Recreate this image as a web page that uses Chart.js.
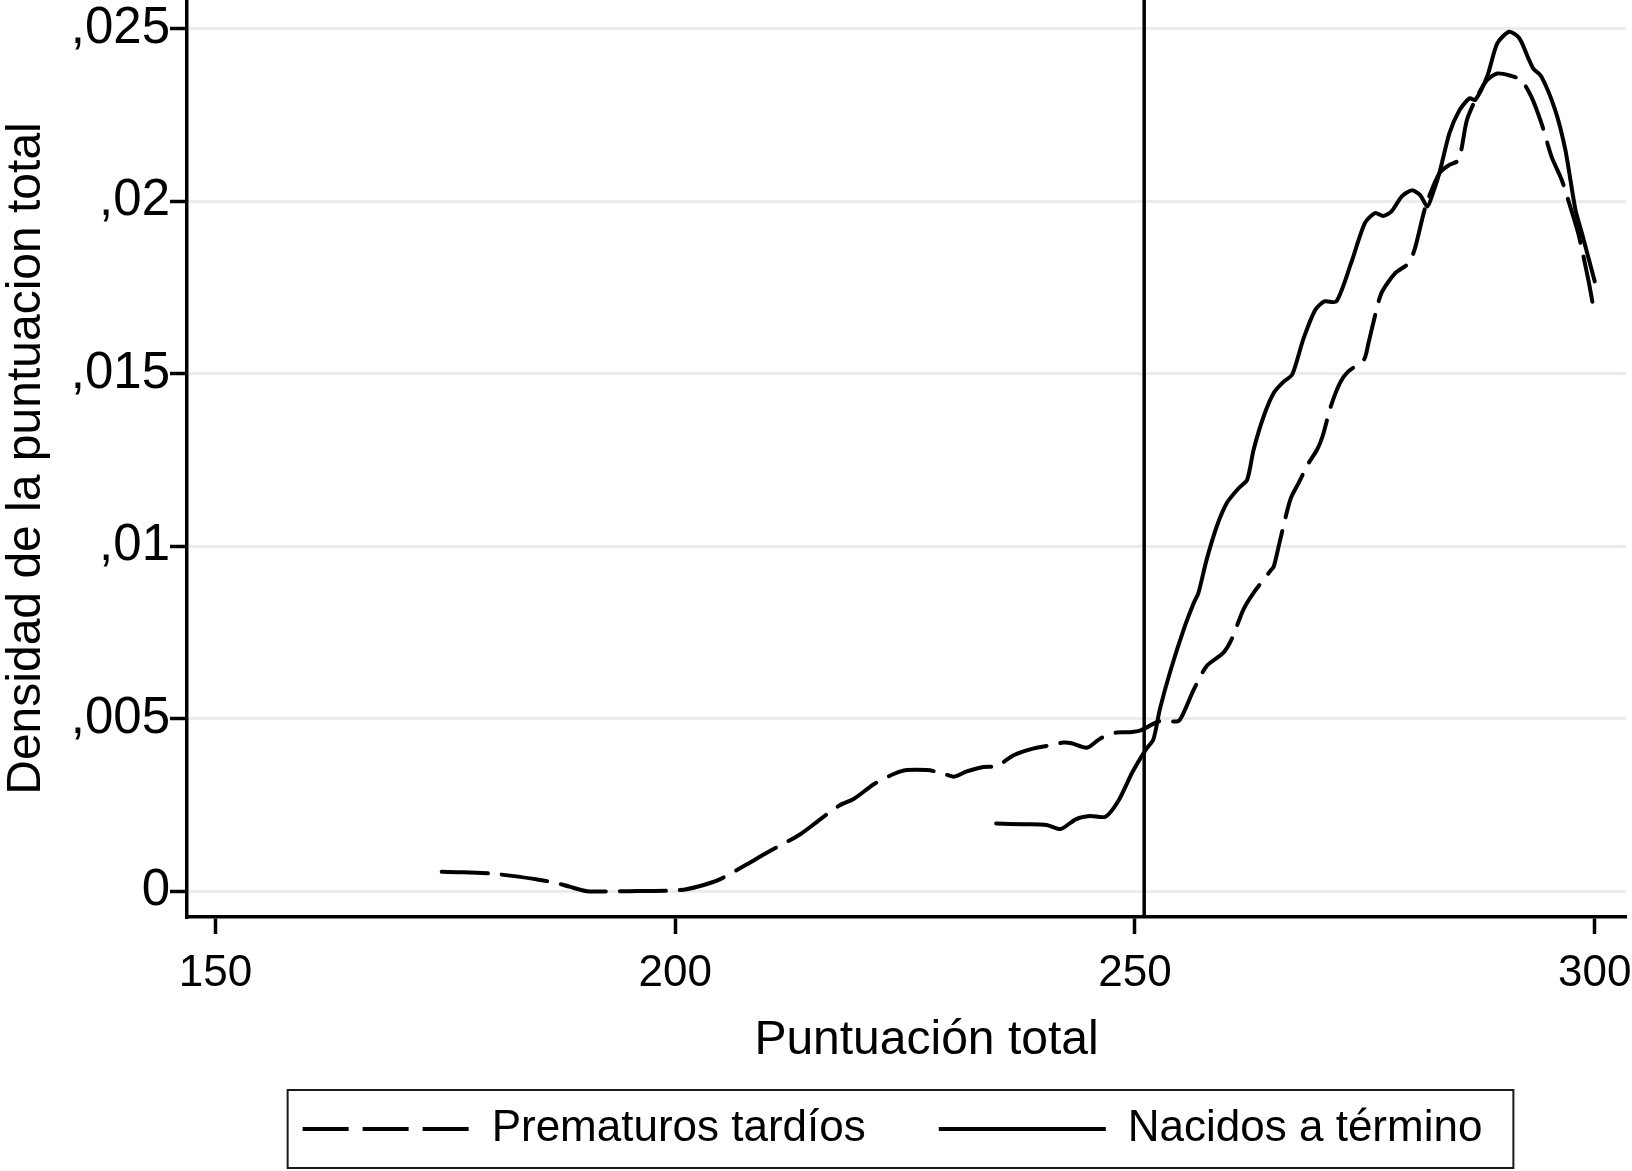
<!DOCTYPE html>
<html>
<head>
<meta charset="utf-8">
<script src="https://cdn.jsdelivr.net/npm/chart.js@4.4.1/dist/chart.umd.min.js"></script>
<style>
  html, body { margin: 0; padding: 0; background: #fff; }
  #wrap { width: 1632px; height: 1171px; }
</style>
</head>
<body>
<div id="wrap"><canvas id="myChart" width="1632" height="1171"></canvas></div>
<script>
// Axis ticks
const xTicks = [150, 200, 250, 300];
const yTicks = [0, 0.005, 0.01, 0.015, 0.02, 0.025];
const yTickLabels = ['0', ',005', ',01', ',015', ',02', ',025'];
const seriesNames = ['Prematuros tardíos', 'Nacidos a término'];

// Kernel density, late preterm (dashed)
const prematurosX = [174.6, 177, 180, 182, 185, 187, 188.5, 190.4, 195, 200.5, 202.7, 204.9, 207.8, 210, 213.6,
  215.8, 217.9, 219.4, 221.6, 223.7, 225.2, 227.4, 228.8, 230.3, 231.7, 233.5, 235, 236.8, 239, 240.8,
  242.2, 243.1, 244.8, 246.2, 248, 249.5, 250.6, 252.7, 254.7, 255.3, 256.4, 257.8, 259.6, 260.5, 261.8,
  262.9, 264.7, 265.1, 265.8, 266.9, 267.8, 268.9, 269.8, 270.4, 271.3, 272.3, 273.2, 274.9, 275.4, 276,
  276.8, 278.3, 279.8, 280.5, 281.6, 283.1, 284.2, 285.2, 286.1, 287.2, 288.3, 289.4, 290.9, 292, 293.1,
  294.2, 295.3, 296.4, 297.1, 298.2, 299.3, 300];
const prematurosY = [0.00056, 0.00055, 0.00051, 0.00045, 0.00034, 0.00024, 0.00013, 0, 0, 0.00003, 0.00015, 0.00035, 0.00078, 0.00112, 0.00165,
  0.00209, 0.00249, 0.00267, 0.0031, 0.00339, 0.00351, 0.00351, 0.00344, 0.00332, 0.00347, 0.0036, 0.00363, 0.00394, 0.00414, 0.00423,
  0.00431, 0.00429, 0.00416, 0.00442, 0.0046, 0.00461, 0.00466, 0.00493, 0.00493, 0.00518, 0.00585, 0.00653, 0.00691, 0.0073, 0.00817,
  0.00865, 0.00928, 0.00942, 0.0102, 0.01136, 0.01184, 0.01242, 0.0128, 0.01319, 0.01406, 0.01474, 0.01507, 0.01541, 0.0159, 0.01657,
  0.01734, 0.01792, 0.01821, 0.01869, 0.01985, 0.02082, 0.02106, 0.0212, 0.02236, 0.02304, 0.02352, 0.02371, 0.02364, 0.02352, 0.02304,
  0.02227, 0.0213, 0.02063, 0.02005, 0.01908, 0.01773, 0.01671];

// Kernel density, term births (solid)
const terminoX = [234.9, 237.8, 240.4, 241.9, 243.6, 245.1, 246.8, 248.2, 249.7, 251.2, 252, 252.7, 253.8, 255.3, 256.4,
  256.9, 257.8, 258.9, 260, 261.3, 262.2, 262.9, 264, 265.1, 266.2, 267.1, 268.3, 269.6, 270.6, 271.9,
  273.5, 275, 276.1, 277, 277.9, 279, 280.1, 281, 281.8, 282.4, 283.1, 284.2, 285.3, 286.4, 287,
  288.3, 289.4, 290.7, 291.8, 292.7, 293.3, 294.2, 295.7, 296.8, 297.9, 298.6, 300];
const terminoY = [0.00196, 0.00194, 0.00192, 0.0018, 0.00209, 0.00218, 0.00216, 0.00262, 0.00344, 0.00411, 0.0044, 0.00527, 0.00634, 0.00759, 0.00836,
  0.00865, 0.00962, 0.01058, 0.01126, 0.01169, 0.01193, 0.0128, 0.01377, 0.01445, 0.01478, 0.01498, 0.016, 0.01685, 0.0171, 0.0171,
  0.01821, 0.01937, 0.01966, 0.01958, 0.01971, 0.02014, 0.02032, 0.02019, 0.01985, 0.02024, 0.02082, 0.02198, 0.02265, 0.02299, 0.02294,
  0.02362, 0.02458, 0.02492, 0.02473, 0.0242, 0.02386, 0.02362, 0.02265, 0.0215, 0.01976, 0.01908, 0.01768];

// Reference line (xline)
const cutoff = 251;

const xMin = 146.9, xMax = 303.4;
const yMin = -0.00075, yMax = 0.02584;

const FONT = "'Liberation Sans', Arial, Helvetica, sans-serif";
const dashPattern = [46, 14];

const toPoints = (xs, ys) => xs.map((x, i) => ({ x: x, y: ys[i] }));

// nudges the legend a little left and draws the frame round it
const legendBox = {
    id: 'legendBox',
    afterUpdate(chart) {
        const lg = chart.legend;
        lg.left -= 14;
        lg.right -= 14;
        (lg.legendHitBoxes || []).forEach(h => { h.left -= 14; });
    },
    afterDraw(chart) {
        const hb = chart.legend.legendHitBoxes;
        if (!hb || !hb.length) return;
        const first = hb[0], last = hb[hb.length - 1];
        const cy = first.top + first.height / 2;
        const left = first.left - 15;
        const right = last.left + last.width + 31;
        const ctx = chart.ctx;
        ctx.save();
        ctx.strokeStyle = '#1a1a1a';
        ctx.lineWidth = 2;
        ctx.strokeRect(left, cy - 39, right - left, 78);
        ctx.restore();
    }
};

const data = {
    datasets: [
        {
            label: seriesNames[0],
            data: toPoints(prematurosX, prematurosY),
            borderColor: '#000',
            borderWidth: 4,
            borderDash: dashPattern,
            borderCapStyle: 'round',
            borderJoinStyle: 'round',
            pointRadius: 0,
            tension: 0.25,
        },
        {
            label: seriesNames[1],
            data: toPoints(terminoX, terminoY),
            borderColor: '#000',
            borderWidth: 4,
            borderCapStyle: 'round',
            borderJoinStyle: 'round',
            pointRadius: 0,
            tension: 0.25,
        },
        {
            label: 'xline',
            data: [{ x: cutoff, y: yMin }, { x: cutoff, y: yMax }],
            borderColor: '#000',
            borderWidth: 3.5,
            pointRadius: 0,
        },
    ],
};

const config = {
    type: 'line',
    data: data,
    options: {
        responsive: false,
        animation: false,
        layout: { padding: { left: 0, right: 6, top: 0, bottom: 10 } },
        plugins: {
            tooltip: { enabled: false },
            legend: {
                position: 'bottom',
                fullSize: false,
                labels: {
                    usePointStyle: true,
                    pointStyleWidth: 167,
                    boxHeight: 10,
                    padding: 73,
                    color: '#000',
                    font: { family: FONT, size: 44 },
                    generateLabels: function (chart) {
                        return chart.data.datasets.slice(0, 2).map((ds, i) => ({
                            text: ds.label,
                            fillStyle: '#000',
                            strokeStyle: '#000',
                            lineWidth: 4,
                            lineDash: ds.borderDash || [],
                            lineCap: 'butt',
                            pointStyle: 'line',
                            fontColor: '#000',
                            datasetIndex: i,
                        }));
                    },
                },
            },
        },
        scales: {
            x: {
                type: 'linear',
                min: xMin,
                max: xMax,
                afterBuildTicks: (scale) => { scale.ticks = xTicks.map(v => ({ value: v })); },
                afterFit: (scale) => {
                    scale.height = 117;
                    scale.paddingLeft = 0;
                    scale.paddingRight = 0;
                    // the axis title sits a bit right of the plot centre
                    if (!scale._titleShifted) {
                        const orig = scale.drawTitle;
                        scale.drawTitle = function () {
                            this.ctx.save();
                            this.ctx.translate(20, 0);
                            orig.call(this);
                            this.ctx.restore();
                        };
                        scale._titleShifted = true;
                    }
                },
                ticks: {
                    color: '#000',
                    font: { family: FONT, size: 44 },
                    padding: 13,
                    maxRotation: 0,
                    callback: (v) => String(v),
                },
                grid: {
                    drawOnChartArea: false,
                    tickLength: 17,
                    tickWidth: 3.5,
                    tickColor: '#000',
                },
                border: { color: '#000', width: 3.5 },
                title: {
                    display: true,
                    text: 'Puntuación total',
                    color: '#000',
                    font: { family: FONT, size: 48, lineHeight: 1.1 },
                    padding: { top: 0, bottom: -33 },
                },
            },
            y: {
                type: 'linear',
                min: yMin,
                max: yMax,
                afterBuildTicks: (scale) => { scale.ticks = yTicks.map(v => ({ value: v })); },
                afterFit: (scale) => {
                    scale.width = 187;
                    scale.paddingTop = 0;
                    scale.paddingBottom = 0;
                },
                ticks: {
                    color: '#000',
                    font: { family: FONT, size: 51 },
                    padding: 0,
                    callback: (v) => {
                        const i = yTicks.findIndex(t => Math.abs(t - v) < 1e-9);
                        return i >= 0 ? yTickLabels[i] : '';
                    },
                },
                grid: {
                    color: '#e7eef1',
                    lineWidth: 3,
                    tickLength: 17,
                    tickWidth: 3.5,
                    tickColor: '#000',
                },
                border: { color: '#000', width: 3.5 },
                title: {
                    display: true,
                    text: 'Densidad de la puntuacion total',
                    color: '#000',
                    font: { family: FONT, size: 48, lineHeight: 1.1 },
                    padding: { top: 0, bottom: 29 },
                },
            },
        },
    },
    plugins: [legendBox],
};

const ctx = document.getElementById('myChart').getContext('2d');
const myChart = new Chart(ctx, config);
</script>
</body>
</html>
